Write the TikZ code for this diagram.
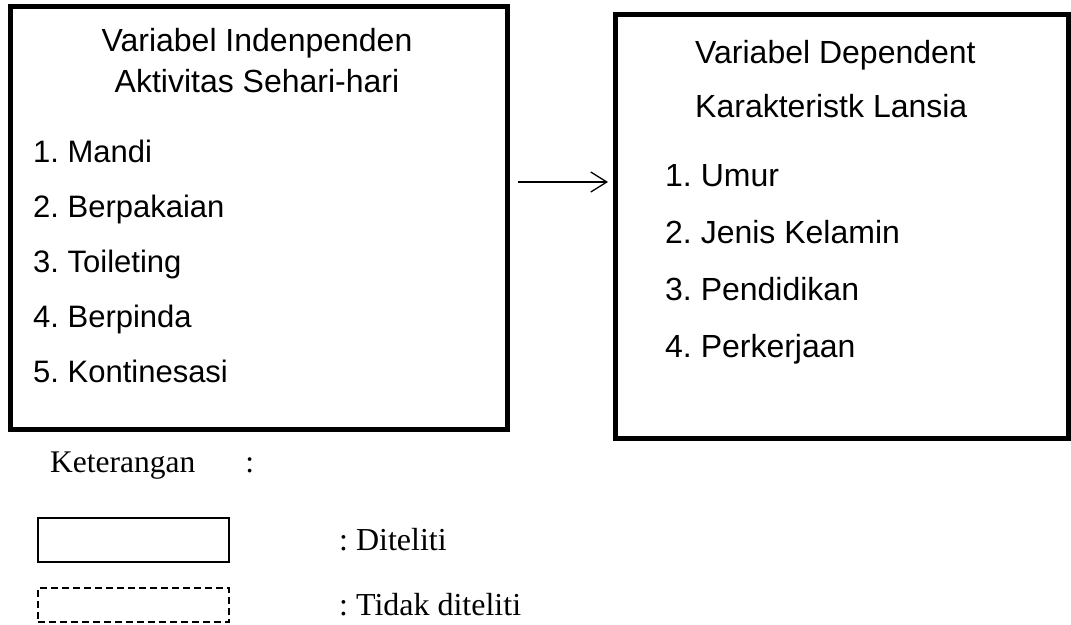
\documentclass[tikz,border=0pt]{standalone}
\usepackage{fontspec}
\setmainfont{Liberation Serif}
\newfontfamily\boxfont{Liberation Sans}
\usetikzlibrary{arrows.meta,positioning}
\frenchspacing

\begin{document}
\begin{tikzpicture}[
  x=1pt,y=-1pt,
  >={Straight Barb[length=16pt,width=20pt]},
  varbox/.style={draw,line width=5pt,inner sep=0pt,outer sep=0pt},
  head/.style={font=\boxfont\fontsize{32}{41}\selectfont,align=center,inner sep=0pt},
  items/.style={font=\boxfont\fontsize{31}{55}\selectfont,align=left,inner sep=0pt,anchor=base west},
  legendbox/.style={draw,line width=2pt,minimum width=191pt,minimum height=44pt,inner sep=0pt,outer sep=0pt},
  legtext/.style={font=\fontsize{32}{37}\selectfont,inner sep=0pt,anchor=base west},
  flow/.style={->,line width=1.3pt,shorten <=10.5pt,shorten >=7.5pt},
]
\useasboundingbox (0,0) rectangle (1071,624);

% the two variable boxes
\node[varbox,minimum width=497pt,minimum height=423pt,anchor=north west] (indep) at (10.5,6.5) {};
\node[varbox,minimum width=453pt,minimum height=424pt,right=108pt of indep.north east,anchor=north west,yshift=-8pt] (dep) {};

% base anchor sits on the last line
\node[head,anchor=base] (indeptitle) at ([xshift=-2pt,yshift=-85.5pt]indep.north) {Variabel Indenpenden\\ Aktivitas Sehari-hari};
\node[items] (indeplist) at ([xshift=22.5pt,yshift=-375.5pt]indep.north west) {1. Mandi\\2. Berpakaian\\3. Toileting\\4. Berpinda\\5. Kontinesasi};

\node[head,align=left,anchor=base west,font=\boxfont\fontsize{32}{54}\selectfont] (deptitle) at ([xshift=79.5pt,yshift=-102.5pt]dep.north west) {Variabel Dependent\\Karakteristk Lansia};
\node[items,font=\boxfont\fontsize{32}{56.7}\selectfont] (deplist) at ([xshift=49.5pt,yshift=-342.5pt]dep.north west) {1. Umur\\2. Jenis Kelamin\\3. Pendidikan\\4. Perkerjaan};

\draw[flow] ([yshift=36pt]indep.east) -- ([yshift=44.5pt]dep.west);

% legend
\node[legtext,font=\fontsize{31.5}{37}\selectfont] (ket) at (50,472) {Keterangan\hspace{50pt}:};
\node[legendbox,anchor=north west] (diteliti) at (38,518) {};
\node[legendbox,dash pattern=on 7pt off 4pt,minimum height=34pt,below=26pt of diteliti] (tidak) {};
\node[legtext,anchor=west] (ditelititext) at ([xshift=110pt]diteliti.east) {: Diteliti};
\node[legtext,anchor=west] (tidaktext) at ([xshift=110pt]tidak.east) {: Tidak diteliti};
\end{tikzpicture}
\end{document}
